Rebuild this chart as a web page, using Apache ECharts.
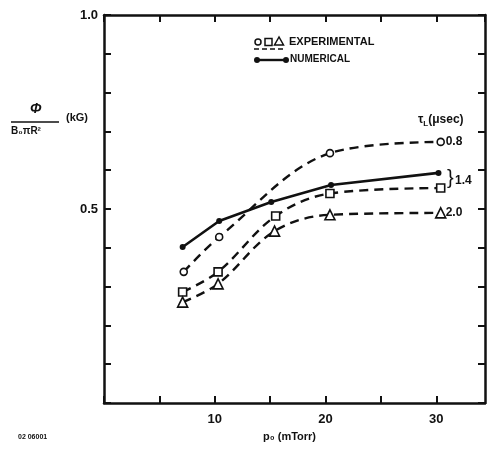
<!DOCTYPE html>
<html>
<head>
<meta charset="utf-8">
<script src="https://cdn.jsdelivr.net/npm/echarts@6/dist/echarts.min.js"></script>
<style>
html, body { margin: 0; padding: 0; background: #fff; }
#chart { width: 487px; height: 451px; }
</style>
</head>
<body>
<div id="chart"></div>
<script>
// p0 (mTorr) and flux / (B0 pi R^2) in kG
var pNum = [7.1, 10.4, 15.1, 20.5, 30.2];
var yNum = [0.402, 0.469, 0.518, 0.562, 0.593];
var pCirc = [7.2, 10.4, 20.4, 30.4];
var yCirc = [0.338, 0.428, 0.644, 0.673];       // tau_L = 0.8
var pSq = [7.1, 10.3, 15.5, 20.4, 30.4];
var ySq = [0.286, 0.338, 0.482, 0.540, 0.554];  // tau_L = 1.4
var pTri = [7.1, 10.3, 15.4, 20.4, 30.4];
var yTri = [0.260, 0.307, 0.443, 0.485, 0.490]; // tau_L = 2.0
var xTickLabels = [10, 20, 30];
var yTickLabels = [0.5, 1.0];

function pairs(xs, ys) {
  var out = [];
  for (var i = 0; i < xs.length; i++) out.push([xs[i], ys[i]]);
  return out;
}

var ink = '#111';
var font = 'Liberation Sans, Arial, sans-serif';
var chart = echarts.init(document.getElementById('chart'));

// every axis gets its own copy of the frame style
function axis(extra) {
  var a = {
    type: 'value',
    axisLine: { show: true, onZero: false, lineStyle: { color: ink, width: 2.5 } },
    axisTick: { show: true, inside: true, length: 7, lineStyle: { color: ink, width: 2 } },
    splitLine: { show: false }
  };
  for (var k in extra) a[k] = extra[k];
  return a;
}

var dashed = { color: ink, width: 2.4, type: [9, 6] };
var hollow = { color: '#fff', borderColor: ink, borderWidth: 1.6 };
var endLbl = { color: ink, fontFamily: font, fontWeight: 'bold', fontSize: 12, distance: 5 };

var option = {
  animation: false,
  backgroundColor: '#fff',
  grid: { left: 104, right: 2, top: 15, bottom: 48 },
  xAxis: [
    axis({
      min: 0, max: 34.4, interval: 5, position: 'bottom',
      axisLabel: {
        color: ink, fontFamily: font, fontWeight: 'bold', fontSize: 13, margin: 10,
        showMaxLabel: false,
        formatter: function (v) { return xTickLabels.indexOf(v) >= 0 ? String(v) : ''; }
      }
    }),
    axis({ min: 0, max: 34.4, interval: 5, position: 'top', axisLabel: { show: false } })
  ],
  yAxis: [
    axis({
      min: 0, max: 1, interval: 0.1, position: 'left',
      axisLabel: {
        color: ink, fontFamily: font, fontWeight: 'bold', fontSize: 13, margin: 6,
        formatter: function (v) {
          for (var i = 0; i < yTickLabels.length; i++) {
            if (Math.abs(v - yTickLabels[i]) < 1e-6) return yTickLabels[i].toFixed(1);
          }
          return '';
        }
      }
    }),
    axis({ min: 0, max: 1, interval: 0.1, position: 'right', axisLabel: { show: false } })
  ],
  series: [
    {
      name: 'NUMERICAL', type: 'line', data: pairs(pNum, yNum),
      lineStyle: { color: ink, width: 2.6 },
      symbol: 'circle', symbolSize: 6,
      itemStyle: { color: ink }
    },
    {
      name: '0.8', type: 'line', smooth: 0.35, data: pairs(pCirc, yCirc),
      lineStyle: dashed, symbol: 'circle', symbolSize: 7, itemStyle: hollow,
      endLabel: Object.assign({ show: true, formatter: '0.8' }, endLbl)
    },
    {
      name: '1.4', type: 'line', smooth: 0.35, data: pairs(pSq, ySq),
      lineStyle: dashed, symbol: 'rect', symbolSize: 8, itemStyle: hollow
    },
    {
      name: '2.0', type: 'line', smooth: 0.35, data: pairs(pTri, yTri),
      lineStyle: dashed, symbol: 'triangle', symbolSize: 10, itemStyle: hollow,
      endLabel: Object.assign({ show: true, formatter: '2.0' }, endLbl)
    }
  ],
  graphic: [
    // y axis title: fraction
    { type: 'text', left: 30, top: 102, style: { text: 'Φ', font: 'italic bold 14px ' + font, fill: ink } },
    { type: 'line', shape: { x1: 11, y1: 122, x2: 59, y2: 122 }, style: { stroke: ink, lineWidth: 1.6 } },
    { type: 'text', left: 11, top: 126, style: { text: 'B₀πR²', font: 'bold 10px ' + font, fill: ink } },
    { type: 'text', left: 66, top: 112, style: { text: '(kG)', font: 'bold 11px ' + font, fill: ink } },
    // x axis title
    { type: 'text', left: 263, top: 431, style: { text: 'p₀ (mTorr)', font: 'bold 11px ' + font, fill: ink } },
    { type: 'text', left: 18, top: 434, style: { text: '02 06001', font: 'bold 7px ' + font, fill: ink } },
    // legend
    { type: 'circle', shape: { cx: 258, cy: 42, r: 3 }, style: { fill: '#fff', stroke: ink, lineWidth: 1.5 } },
    { type: 'rect', shape: { x: 265, y: 38.5, width: 7, height: 7 }, style: { fill: '#fff', stroke: ink, lineWidth: 1.5 } },
    { type: 'polygon', shape: { points: [[279, 37], [274.5, 45], [283.5, 45]] }, style: { fill: '#fff', stroke: ink, lineWidth: 1.5 } },
    { type: 'line', shape: { x1: 254, y1: 49, x2: 285, y2: 49 }, style: { stroke: ink, lineWidth: 1.6, lineDash: [5, 3] } },
    { type: 'text', left: 289, top: 36, style: { text: 'EXPERIMENTAL', font: 'bold 11px ' + font, fill: ink } },
    { type: 'line', shape: { x1: 257, y1: 60, x2: 286, y2: 60 }, style: { stroke: ink, lineWidth: 2.4 } },
    { type: 'circle', shape: { cx: 257, cy: 60, r: 3 }, style: { fill: ink } },
    { type: 'circle', shape: { cx: 286, cy: 60, r: 3 }, style: { fill: ink } },
    { type: 'text', left: 290, top: 54, style: { text: 'NUMERICAL', font: 'bold 10px ' + font, fill: ink } },
    // tau_L label and 1.4 brace
    {
      type: 'text', left: 418, top: 114,
      style: {
        text: '{t|τ}{s|L}{t|(μsec)}',
        rich: {
          t: { font: 'bold 12px ' + font, fill: ink },
          s: { font: 'bold 8px ' + font, fill: ink, padding: [8, 0, 0, 0] }
        }
      }
    },
    { type: 'text', left: 447, top: 168, style: { text: '}', font: '20px ' + font, fill: ink } },
    { type: 'text', left: 455, top: 175, style: { text: '1.4', font: 'bold 12px ' + font, fill: ink } }
  ]
};

chart.setOption(option);
</script>
</body>
</html>
